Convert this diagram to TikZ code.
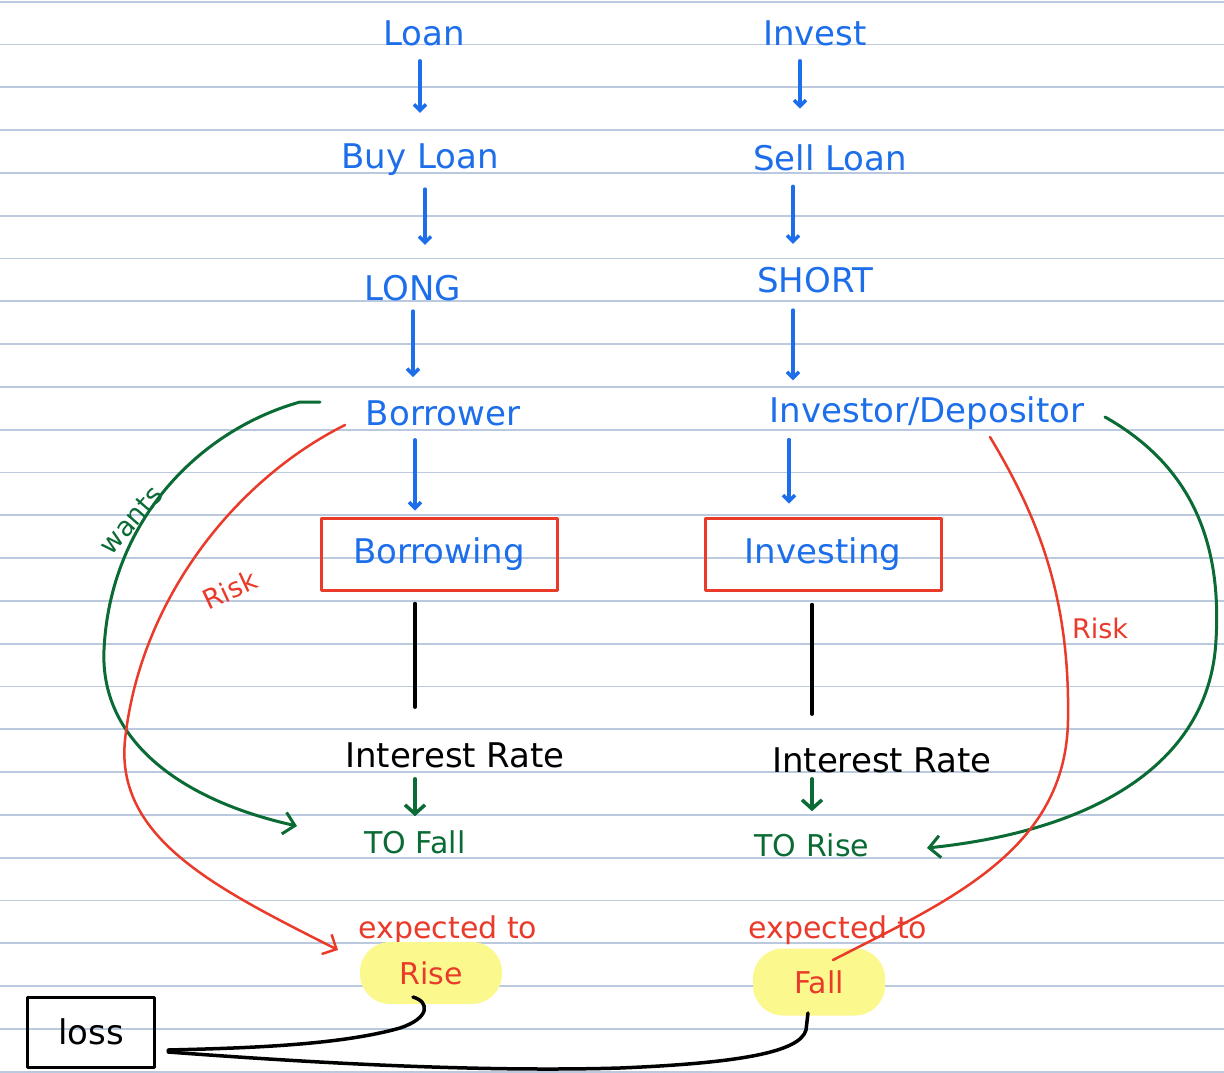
\documentclass[tikz,border=0pt]{standalone}
\usepackage{fontspec}
\setmainfont{DejaVu Sans}
\usepackage{tikz}
\usetikzlibrary{arrows.meta,positioning}
\definecolor{ink}{HTML}{1C6EEA}
\definecolor{leaf}{HTML}{0A6B34}
\definecolor{alarm}{HTML}{EA3A2A}
\definecolor{marker}{HTML}{FBF88E}
\definecolor{ruling}{HTML}{BAC9DE}

\begin{document}
\begin{tikzpicture}[x=1pt,y=-1pt,>={Straight Barb[length=6pt,width=12pt]},line cap=round,line join=round]
\tikzset{
  note/.style={inner sep=2pt,font=\fontsize{34}{40}\selectfont},
  word/.style={note,text=ink},
  frame/.style={word,draw=alarm,line width=3pt,minimum width=236pt,minimum height=72pt},
  goal/.style={note,text=leaf,font=\fontsize{30}{36}\selectfont},
  warn/.style={note,text=alarm,font=\fontsize{30}{36}\selectfont},
  glow/.style={fill=marker,rounded corners=30pt},
  tag/.style={inner sep=1pt,font=\fontsize{27}{32}\selectfont},
  lossbox/.style={note,draw=black,line width=3pt,minimum width=127pt,minimum height=70pt},
  flow/.style={->,draw=ink,line width=3.5pt},
  stem/.style={draw=black,line width=3.5pt},
  dive/.style={->,draw=leaf,line width=3.5pt,>={Straight Barb[length=9pt,width=20pt]}},
  want/.style={->,draw=leaf,line width=3pt,>={Straight Barb[length=11pt,width=22pt]}},
  hazard/.style={draw=alarm,line width=2.5pt,>={Straight Barb[length=11pt,width=22pt]}},
  toloss/.style={draw=black,line width=3.5pt}
}
% ruled page
\fill[white] (0,0) rectangle (1224,1072);
\useasboundingbox (0,0) rectangle (1224,1072);
\foreach \k in {0,...,25}
  \draw[ruling,line width=1.8pt] (0,{1.7+42.8*\k}) -- (1224,{1.7+42.8*\k});

% left column: borrowing side
\node[word] (loan) at (424,33) {Loan};
\node[word] (buy) at (420,160) {Buy Loan};
\node[word] (long) at (413,288) {LONG};
\node[word] (borrower) at (443,413) {Borrower};
\node[frame] (borrowing) at (439,554) {Borrowing};
\node[note] (rateL) at (455,755) {Interest Rate};
\node[goal] (fallL) at (415,842) {TO Fall};
\node[warn] (expL) at (448,930) {expected to};
\node[warn,glow,minimum width=142pt,minimum height=62pt] (riseL) at (431,973) {Rise};

% right column: investing side
\node[word] (invest) at (815,33) {Invest};
\node[word] (sell) at (830,158) {Sell Loan};
\node[word] (short) at (815,280) {SHORT};
\node[word] (investor) at (927,413) {Investor/Depositor};
\node[frame] (investing) at (823,554) {Investing};
\node[note] (rateR) at (882,760) {Interest Rate};
\node[goal] (riseR) at (812,845) {TO Rise};
\node[warn] (expR) at (838,930) {expected to};
\node[warn,glow,minimum width=132pt,minimum height=67pt] (fallR) at (819,982) {Fall};

\node[lossbox] (loss) at (91,1032) {loss};

% down arrows
\draw[flow,shorten <=13pt,shorten >=29pt] ([xshift=-4pt]loan.south) -- ([xshift=-4pt]loan.south |- buy.north);
\draw[flow,shorten <=11pt,shorten >=28pt] ([xshift=5pt]buy.south) -- ([xshift=5pt]buy.south |- long.north);
\draw[flow,shorten <=8pt,shorten >=21pt] (long.south) -- (long.south |- borrower.north);
\draw[flow,shorten <=12pt,shorten >=6pt] ([xshift=-28pt]borrower.south) -- ([xshift=-28pt]borrower.south |- borrowing.north);
\draw[flow,shorten <=13pt,shorten >=34pt] ([xshift=-15pt]invest.south) -- ([xshift=-15pt]invest.south |- sell.north);
\draw[flow,shorten <=13pt,shorten >=21pt] ([xshift=-37pt]sell.south) -- ([xshift=-37pt]sell.south |- short.north);
\draw[flow,shorten <=15pt,shorten >=14pt] ([xshift=-22pt]short.south) -- ([xshift=-22pt]short.south |- investor.north);
\draw[flow,shorten <=8pt,shorten >=13pt] ([xshift=-138pt]investor.south) -- ([xshift=-138pt]investor.south |- investing.north);

\draw[stem,shorten <=12pt,shorten >=33pt] ([xshift=-24pt]borrowing.south) -- ([xshift=-24pt]borrowing.south |- rateL.north);
\draw[stem,shorten <=13pt,shorten >=31pt] ([xshift=-11pt]investing.south) -- ([xshift=-11pt]investing.south |- rateR.north);
\draw[dive,shorten <=9pt,shorten >=12pt] (fallL.north |- rateL.south) -- (fallL.north);
\draw[dive,shorten <=4pt,shorten >=20pt] (riseR.north |- rateR.south) -- (riseR.north);

% wants / risk curves
\draw[want] ([shift={(-123,-11)}]borrower.center) -- ++(-20,0)
  .. controls (200,430) and (110,520) .. (104,650)
  .. controls (100,740) and (180,800) .. ([shift={(-118,-16)}]fallL.center);
\node[tag,text=leaf,rotate=49] (wants) at (131,520) {wants};
\draw[hazard,->] ([shift={(-98,12)}]borrower.center)
  .. controls (235,480) and (140,600) .. (125,740)
  .. controls (115,840) and (220,890) .. ([shift={(-110,20)}]expL.center);
\node[tag,text=alarm,rotate=25] (riskL) at (230,590) {Risk};

\draw[want] ([shift={(178,4)}]investor.center)
  .. controls (1190,465) and (1222,540) .. (1216,640)
  .. controls (1210,760) and (1100,830) .. ([shift={(115,3)}]riseR.center);
\draw[hazard] ([shift={(63,24)}]investor.center)
  .. controls (1040,520) and (1070,600) .. (1068,720)
  .. controls (1066,850) and (950,900) .. ([shift={(14,-22)}]fallR.center);
\node[tag,text=alarm] (riskR) at (1100,628) {Risk};

% both outcomes lead to a loss
\draw[toloss] ([shift={(-18,24)}]riseL.center)
  .. controls (430,1002) and (430,1018) .. (400,1028)
  .. controls (340,1045) and (250,1048) .. ([shift={(77,18)}]loss.center);
\draw[toloss] ([shift={(-11,31)}]fallR.center) -- (806,1030)
  .. controls (800,1052) and (740,1063) .. (620,1068)
  .. controls (450,1073) and (250,1058) .. ([shift={(77,20)}]loss.center);
\end{tikzpicture}
\end{document}
